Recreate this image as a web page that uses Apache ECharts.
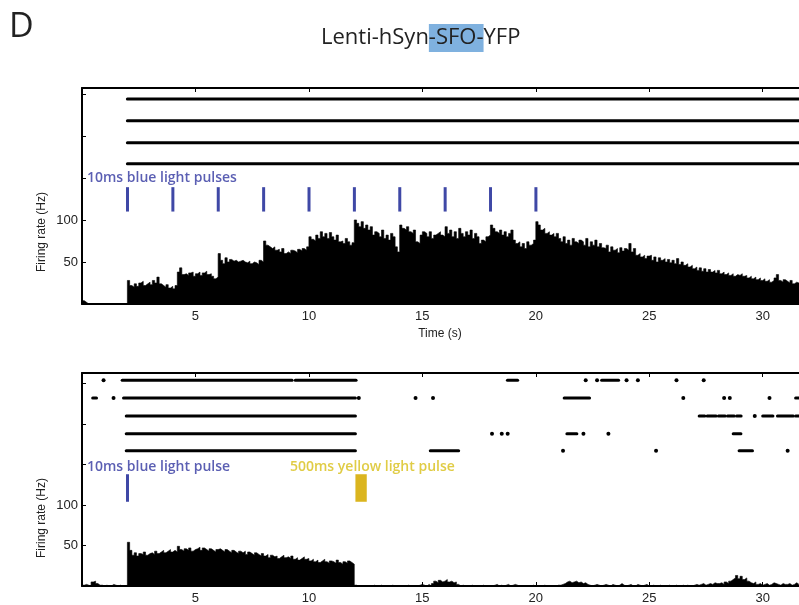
<!DOCTYPE html>
<html>
<head>
<meta charset="utf-8">
<script src="https://cdn.jsdelivr.net/npm/echarts@6/dist/echarts.min.js"></script>
<style>
html, body { margin: 0; padding: 0; background: #fff; }
#chart { width: 799px; height: 605px; }
</style>
</head>
<body>
<div id="chart"></div>
<script>
// histogram bin width (s) and visible time range
var binWidth = 0.1;
var tMax = 31.6;
var xTickLabels = [5, 10, 15, 20, 25, 30];
var yTickLabels = [50, 100];

// firing rate (Hz), 0.1 s bins starting at t = 0
var psthTop = [
    4, 2, 0, 0, 0, 0, 0, 0, 0, 0,
    0, 0, 0, 0, 0, 0, 0, 0, 0, 0,
    28, 22, 20, 24, 21, 25, 27, 22, 24, 26,
    23, 28, 25, 32, 24, 22, 20, 23, 19, 21,
    18, 22, 38, 43, 35, 36, 34, 37, 38, 33,
    36, 38, 34, 37, 39, 35, 36, 33, 30, 32,
    60, 52, 48, 55, 50, 53, 51, 52, 50, 51,
    52, 50, 49, 51, 48, 50, 49, 47, 52, 50,
    75, 70, 68, 66, 68, 64, 65, 62, 66, 60,
    62, 60, 64, 63, 61, 65, 63, 66, 64, 68,
    80, 77, 75, 82, 78, 86, 80, 84, 78, 85,
    80, 76, 82, 74, 75, 72, 78, 74, 70, 73,
    100, 96, 92, 98, 90, 94, 88, 92, 82, 86,
    84, 80, 88, 78, 82, 76, 84, 80, 68, 62,
    94, 90, 88, 92, 86, 84, 88, 74, 72, 82,
    86, 84, 80, 86, 78, 82, 84, 86, 82, 80,
    92, 84, 88, 80, 86, 78, 90, 84, 80, 86,
    82, 88, 78, 84, 80, 72, 76, 74, 80, 82,
    94, 90, 86, 84, 88, 82, 86, 80, 84, 88,
    76, 72, 74, 68, 72, 66, 74, 70, 72, 76,
    98, 94, 88, 90, 84, 86, 82, 84, 80, 84,
    78, 74, 80, 72, 76, 70, 78, 74, 72, 76,
    74, 70, 78, 68, 74, 70, 76, 68, 72, 67,
    66, 70, 62, 68, 64, 66, 61, 67, 63, 66,
    64, 72, 62, 66, 58, 60, 56, 58, 54, 57,
    58, 52, 56, 50, 55, 52, 54, 50, 53, 49,
    52, 48, 54, 47, 50, 46, 48, 44, 46, 42,
    44, 40, 43, 39, 42, 38, 41, 38, 40, 37,
    40, 36, 38, 35, 37, 34, 36, 33, 35, 34,
    36, 33, 34, 31, 33, 30, 32, 29, 31, 28,
    30, 27, 29, 26, 28, 31, 35, 28, 26, 29,
    27, 25, 28, 24, 26, 25
];

var psthBottom = [
    1, 2, 1, 0, 5, 6, 3, 1, 1, 0,
    1, 0, 0, 2, 1, 0, 1, 0, 0, 1,
    54, 44, 38, 41, 37, 40, 39, 42, 38, 40,
    41, 39, 43, 40, 42, 44, 41, 43, 45, 42,
    44, 42, 49, 45, 43, 46, 44, 47, 43, 45,
    46, 48, 44, 47, 45, 43, 46, 44, 42, 45,
    46, 44, 42, 45, 43, 41, 44, 42, 40, 43,
    41, 43, 39, 42, 40, 38, 41, 39, 37, 40,
    37, 39, 35, 38, 36, 37, 34, 36, 38, 35,
    36, 34, 37, 33, 35, 32, 34, 36, 33, 34,
    31, 33, 30, 32, 29, 31, 33, 30, 28, 31,
    30, 28, 32, 29, 27, 30, 28, 31, 29, 27,
    1, 0, 0, 0, 0, 0, 0, 0, 1, 0,
    0, 1, 0, 0, 0, 0, 1, 0, 0, 0,
    0, 0, 0, 1, 0, 0, 0, 0, 1, 2,
    1, 0, 2, 0, 3, 6, 4, 7, 5, 6,
    8, 5, 6, 4, 5, 2, 0, 1, 0, 0,
    0, 1, 0, 0, 0, 0, 1, 0, 0, 0,
    0, 1, 2, 0, 1, 0, 1, 2, 0, 1,
    2, 1, 0, 0, 0, 0, 0, 0, 1, 0,
    0, 0, 0, 1, 0, 0, 0, 0, 0, 1,
    1, 2, 3, 5, 6, 4, 5, 6, 4, 5,
    3, 4, 2, 1, 0, 1, 2, 1, 0, 1,
    2, 1, 0, 2, 1, 0, 1, 3, 1, 0,
    1, 2, 0, 0, 2, 1, 0, 1, 2, 0,
    0, 1, 0, 0, 1, 0, 0, 0, 1, 0,
    0, 1, 0, 0, 1, 0, 1, 0, 0, 1,
    2, 1, 2, 3, 1, 2, 3, 2, 4, 3,
    3, 4, 2, 5, 3, 6, 8, 10, 13, 9,
    12, 8, 10, 6, 4, 3, 5, 2, 3, 1,
    2, 3, 1, 2, 4, 3, 2, 1, 3, 2,
    2, 3, 1, 2, 4, 2
];

// raster rows: level on the rate axis, then spike runs [start, end] in s
var rowLevelsTop = [244, 218, 192, 167];
var rasterTop = [
    [[2.0, 31.6]],
    [[2.0, 31.6]],
    [[2.0, 31.6]],
    [[2.0, 31.6]]
];

var rowLevelsBottom = [254, 232, 210, 188, 167];
var rasterBottom = [
    [[0.95, 0.95], [1.77, 9.26], [9.4, 12.08], [18.75, 19.2], [22.2, 22.2], [22.7, 22.7],
     [22.9, 23.65], [24.0, 24.0], [24.5, 24.5], [26.2, 26.2], [27.4, 27.4]],
    [[0.47, 0.64], [1.39, 1.39], [1.83, 12.05], [12.2, 12.2], [14.7, 14.7], [15.47, 15.47],
     [21.25, 22.37], [26.5, 26.5], [28.3, 28.3], [28.55, 28.55], [30.3, 30.3], [31.45, 31.6]],
    [[1.95, 12.05], [27.2, 27.45], [27.55, 27.95], [28.05, 28.35], [28.45, 28.75], [28.85, 29.05],
     [29.65, 29.65], [30.0, 30.45], [30.65, 31.35], [31.45, 31.6]],
    [[1.95, 12.05], [18.07, 18.07], [18.5, 18.5], [18.76, 18.76], [21.37, 21.81], [22.1, 22.1],
     [23.2, 23.2], [28.7, 29.04]],
    [[1.95, 12.05], [15.35, 16.6], [21.2, 21.2], [25.3, 25.3], [28.96, 29.55], [31.1, 31.1]]
];

// light pulses: onset times (s) and the rate span they are drawn over
var bluePulsesTop = [2, 4, 6, 8, 10, 12, 14, 16, 18, 20];
var pulseSpanTop = [110, 139];
var bluePulsesBottom = [2];
var yellowPulseBottom = [12.05, 12.55];
var pulseSpanBottom = [104, 138];

var chart = echarts.init(document.getElementById('chart'));

function toSteps(vals) {
    var out = vals.map(function(v, i) { return [+(i * binWidth).toFixed(2), v]; });
    out.push([tMax, vals[vals.length - 1]]);
    return out;
}

function rasterData(rows, levels) {
    var out = [];
    rows.forEach(function(runs, r) {
        runs.forEach(function(run) { out.push([run[0], run[1], levels[r]]); });
    });
    return out;
}

function drawSpikes(params, api) {
    var p0 = api.coord([api.value(0), api.value(2)]);
    var p1 = api.coord([api.value(1), api.value(2)]);
    if (p1[0] - p0[0] < 1) {
        return { type: 'circle', shape: { cx: p0[0], cy: p0[1], r: 2 }, style: { fill: '#000' } };
    }
    return {
        type: 'line',
        shape: { x1: p0[0], y1: p0[1], x2: p1[0], y2: p1[1] },
        style: { stroke: '#000', lineWidth: 3, lineCap: 'round' }
    };
}

function drawPulse(color, minW) {
    return function(params, api) {
        var a = api.coord([api.value(0), api.value(3)]);
        var b = api.coord([api.value(1), api.value(2)]);
        var w = Math.max(minW, b[0] - a[0]);
        return {
            type: 'rect',
            shape: { x: (a[0] + b[0]) / 2 - w / 2, y: a[1], width: w, height: b[1] - a[1] },
            style: { fill: color }
        };
    };
}

function bottomAxis(grid) {
    return {
        type: 'value', gridIndex: grid, position: 'bottom', min: 0, max: tMax, interval: 5,
        axisLine: { lineStyle: { color: '#000', width: 2 } },
        axisTick: { inside: true, length: 4, lineStyle: { color: '#000' } },
        splitLine: { show: false },
        axisLabel: {
            margin: 6, color: '#222', fontSize: 13, fontFamily: 'Liberation Sans',
            showMaxLabel: false,
            formatter: function(v) { return xTickLabels.indexOf(v) >= 0 ? v : ''; }
        }
    };
}

function topAxis(grid) {
    return {
        type: 'value', gridIndex: grid, position: 'top', min: 0, max: tMax, interval: 5,
        axisLine: { lineStyle: { color: '#000', width: 2 } },
        axisTick: { inside: true, length: 4, lineStyle: { color: '#000' } },
        splitLine: { show: false },
        axisLabel: { show: false }
    };
}

function rateAxis(grid, max) {
    return {
        type: 'value', gridIndex: grid, min: 0, max: max, interval: 50,
        axisLine: { show: true, lineStyle: { color: '#000', width: 2 } },
        axisTick: { show: true, inside: true, length: 4, lineStyle: { color: '#000' } },
        splitLine: { show: false },
        axisLabel: {
            margin: 4, color: '#222', fontSize: 13, fontFamily: 'Liberation Sans',
            formatter: function(v) { return yTickLabels.indexOf(v) >= 0 ? v : ''; }
        }
    };
}

var option = {
    backgroundColor: '#fff',
    animation: false,
    title: {
        text: '{a|Lenti-hSyn}{b|-SFO-}{a|YFP}',
        left: 316,
        top: 19,
        textStyle: {
            fontWeight: 'normal',
            rich: {
                a: { fontFamily: 'Open Sans', fontSize: 22, fontWeight: 'normal', color: '#222', lineHeight: 28 },
                b: { fontFamily: 'Open Sans', fontSize: 22, fontWeight: 'normal', color: '#222', lineHeight: 28,
                     backgroundColor: '#7fb1df', height: 28 }
            }
        }
    },
    grid: [
        { left: 82, top: 88, width: 717, height: 216 },
        { left: 82, top: 373, width: 717, height: 216 }
    ],
    xAxis: [bottomAxis(0), topAxis(0), bottomAxis(1), topAxis(1)],
    yAxis: [rateAxis(0, 257), rateAxis(1, 263)],
    graphic: [
        { type: 'text', left: 9, top: 10, style: { text: 'D', font: '34px "Open Sans"', fill: '#222' } },
        { type: 'text', x: 440, y: 334, style: { text: 'Time (s)', font: '12px "Liberation Sans"', fill: '#222',
          textAlign: 'center', textVerticalAlign: 'middle', align: 'center', verticalAlign: 'middle' } },
        { type: 'text', x: 42, y: 232, rotation: Math.PI / 2,
          style: { text: 'Firing rate (Hz)', font: '12px "Liberation Sans"', fill: '#222',
          textAlign: 'center', textVerticalAlign: 'middle', align: 'center', verticalAlign: 'middle' } },
        { type: 'text', x: 42, y: 518, rotation: Math.PI / 2,
          style: { text: 'Firing rate (Hz)', font: '12px "Liberation Sans"', fill: '#222',
          textAlign: 'center', textVerticalAlign: 'middle', align: 'center', verticalAlign: 'middle' } },
        { type: 'text', x: 87, y: 178, style: { text: '10ms blue light pulses', font: '600 14px "Open Sans"',
          fill: '#5b5fb3', textVerticalAlign: 'middle', verticalAlign: 'middle' } },
        { type: 'text', x: 87, y: 467, style: { text: '10ms blue light pulse', font: '600 14px "Open Sans"',
          fill: '#5b5fb3', textVerticalAlign: 'middle', verticalAlign: 'middle' } },
        { type: 'text', x: 290, y: 467, style: { text: '500ms yellow light pulse', font: '600 14px "Open Sans"',
          fill: '#e0cc45', textVerticalAlign: 'middle', verticalAlign: 'middle' } }
    ],
    series: [
        {
            type: 'line', xAxisIndex: 0, yAxisIndex: 0, step: 'end', symbol: 'none',
            lineStyle: { color: '#000', width: 0.6 }, areaStyle: { color: '#000', opacity: 1 },
            data: toSteps(psthTop)
        },
        {
            type: 'line', xAxisIndex: 2, yAxisIndex: 1, step: 'end', symbol: 'none',
            lineStyle: { color: '#000', width: 0.6 }, areaStyle: { color: '#000', opacity: 1 },
            data: toSteps(psthBottom)
        },
        {
            type: 'custom', xAxisIndex: 0, yAxisIndex: 0, renderItem: drawSpikes,
            encode: { x: [0, 1], y: 2 }, data: rasterData(rasterTop, rowLevelsTop)
        },
        {
            type: 'custom', xAxisIndex: 2, yAxisIndex: 1, renderItem: drawSpikes,
            encode: { x: [0, 1], y: 2 }, data: rasterData(rasterBottom, rowLevelsBottom)
        },
        {
            type: 'custom', xAxisIndex: 0, yAxisIndex: 0, renderItem: drawPulse('#3f48a6', 3),
            encode: { x: [0, 1], y: [2, 3] },
            data: bluePulsesTop.map(function(t) { return [t, t + 0.01, pulseSpanTop[0], pulseSpanTop[1]]; })
        },
        {
            type: 'custom', xAxisIndex: 2, yAxisIndex: 1, renderItem: drawPulse('#3f48a6', 3),
            encode: { x: [0, 1], y: [2, 3] },
            data: bluePulsesBottom.map(function(t) { return [t, t + 0.01, pulseSpanBottom[0], pulseSpanBottom[1]]; })
        },
        {
            type: 'custom', xAxisIndex: 2, yAxisIndex: 1, renderItem: drawPulse('#dbb51f', 3),
            encode: { x: [0, 1], y: [2, 3] },
            data: [[yellowPulseBottom[0], yellowPulseBottom[1], pulseSpanBottom[0], pulseSpanBottom[1]]]
        }
    ]
};

chart.setOption(option);
</script>
</body>
</html>
